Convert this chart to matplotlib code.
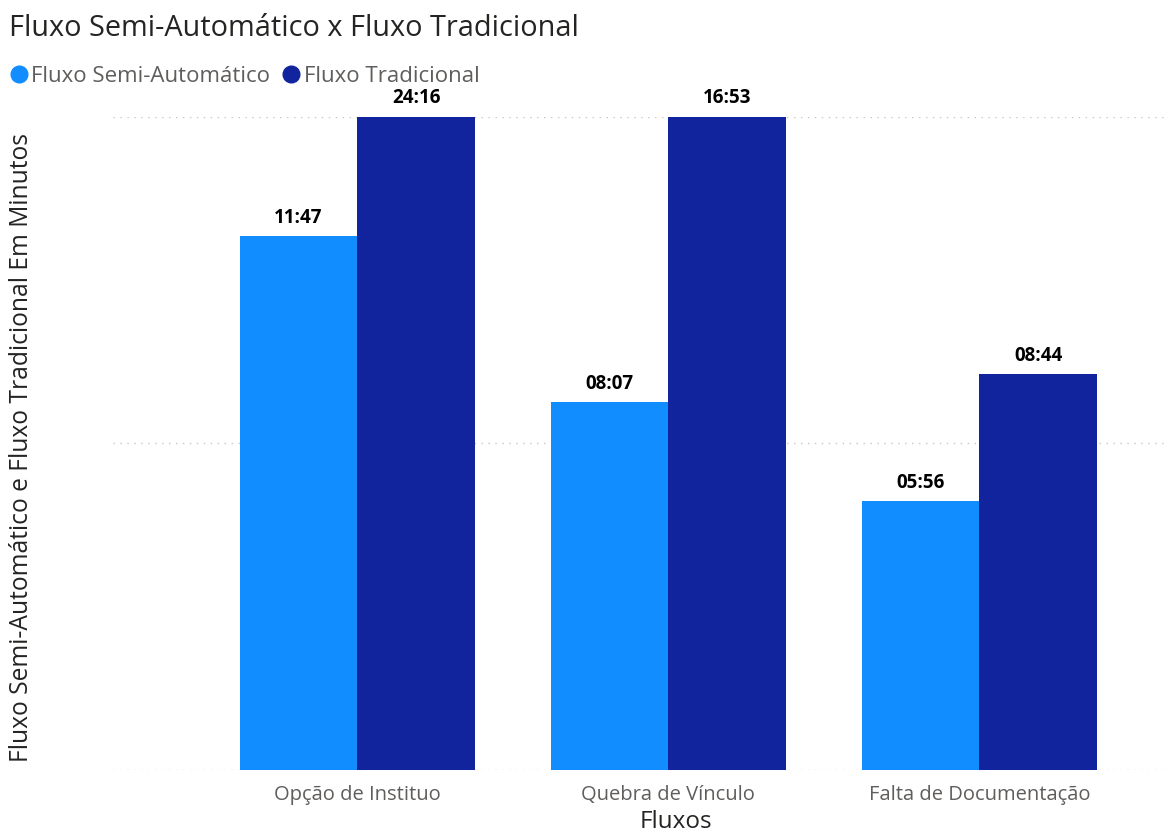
import numpy as np
import matplotlib.pyplot as plt
from matplotlib.lines import Line2D

plt.rcParams['font.family'] = ['Open Sans', 'DejaVu Sans']

# dados
categorias = ["Opção de Instituo", "Quebra de Vínculo", "Falta de Documentação"]
semi_auto = ["11:47", "08:07", "05:56"]
tradicional = ["24:16", "16:53", "08:44"]
eixo_max = 14.42  # limite do eixo (barras maiores ficam cortadas)


def para_minutos(t):
    m, s = t.split(":")
    return int(m) + int(s) / 60


v_semi = np.array([para_minutos(t) for t in semi_auto])
v_trad = np.array([para_minutos(t) for t in tradicional])

cor_semi = '#118DFF'
cor_trad = '#12239E'

fig = plt.figure(figsize=(11.66, 8.37), dpi=100)
ax = fig.add_axes([0.097, 0.079, 0.903, 0.780])

x = np.arange(len(categorias))
w = 0.378
ax.bar(x - w / 2, v_semi, w, color=cor_semi, zorder=3)
ax.bar(x + w / 2, v_trad, w, color=cor_trad, zorder=3)

ax.set_ylim(0, eixo_max)
ax.set_xlim(-0.785, 2.6)

# rótulos de dados
for xs, vs, ts in [(x - w / 2, v_semi, semi_auto), (x + w / 2, v_trad, tradicional)]:
    for xi, v, t in zip(xs, vs, ts):
        ax.annotate(t, (xi, min(v, eixo_max)), xytext=(0, 7), textcoords='offset points',
                    ha='center', va='bottom', fontsize=13.5, fontweight='bold',
                    color='#000000', annotation_clip=False)

# grade pontilhada
ax.set_yticks([0, eixo_max / 2, eixo_max])
ax.yaxis.grid(True, linestyle=(0, (1, 4)), color='#C8C6C4', linewidth=1)
ax.tick_params(axis='y', left=False, labelleft=False)
ax.tick_params(axis='x', bottom=False, labelsize=14.5, colors='#605E5C', pad=7)
ax.set_xticks(x)
ax.set_xticklabels(categorias)
for s in ax.spines.values():
    s.set_visible(False)

fig.text(676 / 1166, 1 - 822 / 837, "Fluxos", fontsize=17.5, color='#252423',
         ha='center', va='center')
fig.text(22 / 1166, 1 - 447 / 837, "Fluxo Semi-Automático e Fluxo Tradicional Em Minutos",
         fontsize=17.7, color='#252423', rotation=90, ha='center', va='center')

fig.text(0.008, 1 - 28 / 837, "Fluxo Semi-Automático x Fluxo Tradicional", fontsize=20.8,
         color='#252423', va='center', ha='left')

handles = [Line2D([], [], marker='o', linestyle='', markersize=12, color=cor_semi),
           Line2D([], [], marker='o', linestyle='', markersize=12, color=cor_trad)]
leg = fig.legend(handles, ["Fluxo Semi-Automático", "Fluxo Tradicional"], ncol=2,
                 loc='center left', bbox_to_anchor=(8 / 1166, 1 - 77 / 837), frameon=False,
                 fontsize=16, handlelength=0.6, handletextpad=0.25, columnspacing=0.65,
                 borderaxespad=0, borderpad=0.2)
for t in leg.get_texts():
    t.set_color('#605E5C')

fig.savefig("out.png", dpi=100)
